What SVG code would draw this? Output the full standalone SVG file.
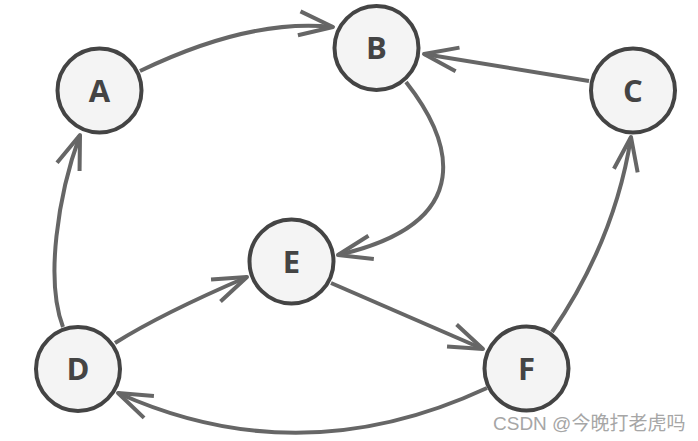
<svg xmlns="http://www.w3.org/2000/svg" width="698" height="441" viewBox="0 0 698 441">
<style>
.node circle{fill:#f4f4f4;stroke:#444;stroke-width:4}
.node text{font-family:"Open Sans","DejaVu Sans",sans-serif;font-weight:bold;font-size:31px;fill:#444;text-anchor:middle}
.edge{fill:none;stroke:#666;stroke-width:4;marker-end:url(#arrow)}
.wm{font-family:"Liberation Sans","Noto Sans CJK SC",sans-serif;font-size:19px;fill:#a6a6a6}
</style>
<defs>
<marker id="arrow" markerUnits="userSpaceOnUse" orient="auto" markerWidth="40" markerHeight="26" refX="34" refY="12" overflow="visible">
<path d="M0,0 L34,12 L0,24" fill="none" stroke="#666" stroke-width="4" stroke-linejoin="round"/>
</marker>
</defs>
<rect width="698" height="441" fill="#fff"/>
<g id="connectors">
<path class="edge" d="M140,71 Q250,18 333,27"/>
<path class="edge" d="M589,81 L424,54"/>
<path class="edge" d="M406,82 C450,138 482,222 338,255"/>
<path class="edge" d="M115,343 Q161,314 247,277"/>
<path class="edge" d="M331,283 L483,349"/>
<path class="edge" d="M552,332 Q615,240 631,137"/>
<path class="edge" d="M63,327 C45,280 58,195 80,135"/>
<path class="edge" d="M487,388 Q300,475 118,393"/>
</g>
<g id="A" class="node"><circle cx="99.5" cy="90.5" r="42"/><text x="99.5" y="101.5">A</text></g>
<g id="B" class="node"><circle cx="376.5" cy="48" r="42"/><text x="376.5" y="59">B</text></g>
<g id="C" class="node"><circle cx="633" cy="90.5" r="42"/><text x="633" y="101.5">C</text></g>
<g id="D" class="node"><circle cx="78" cy="369" r="42"/><text x="78" y="380">D</text></g>
<g id="E" class="node"><circle cx="291.5" cy="261.5" r="42"/><text x="291.5" y="272.5">E</text></g>
<g id="F" class="node"><circle cx="526.5" cy="368.5" r="42"/><text x="526.5" y="379.5">F</text></g>
<text class="wm" x="493" y="430">CSDN @今晚打老虎吗</text>
</svg>
